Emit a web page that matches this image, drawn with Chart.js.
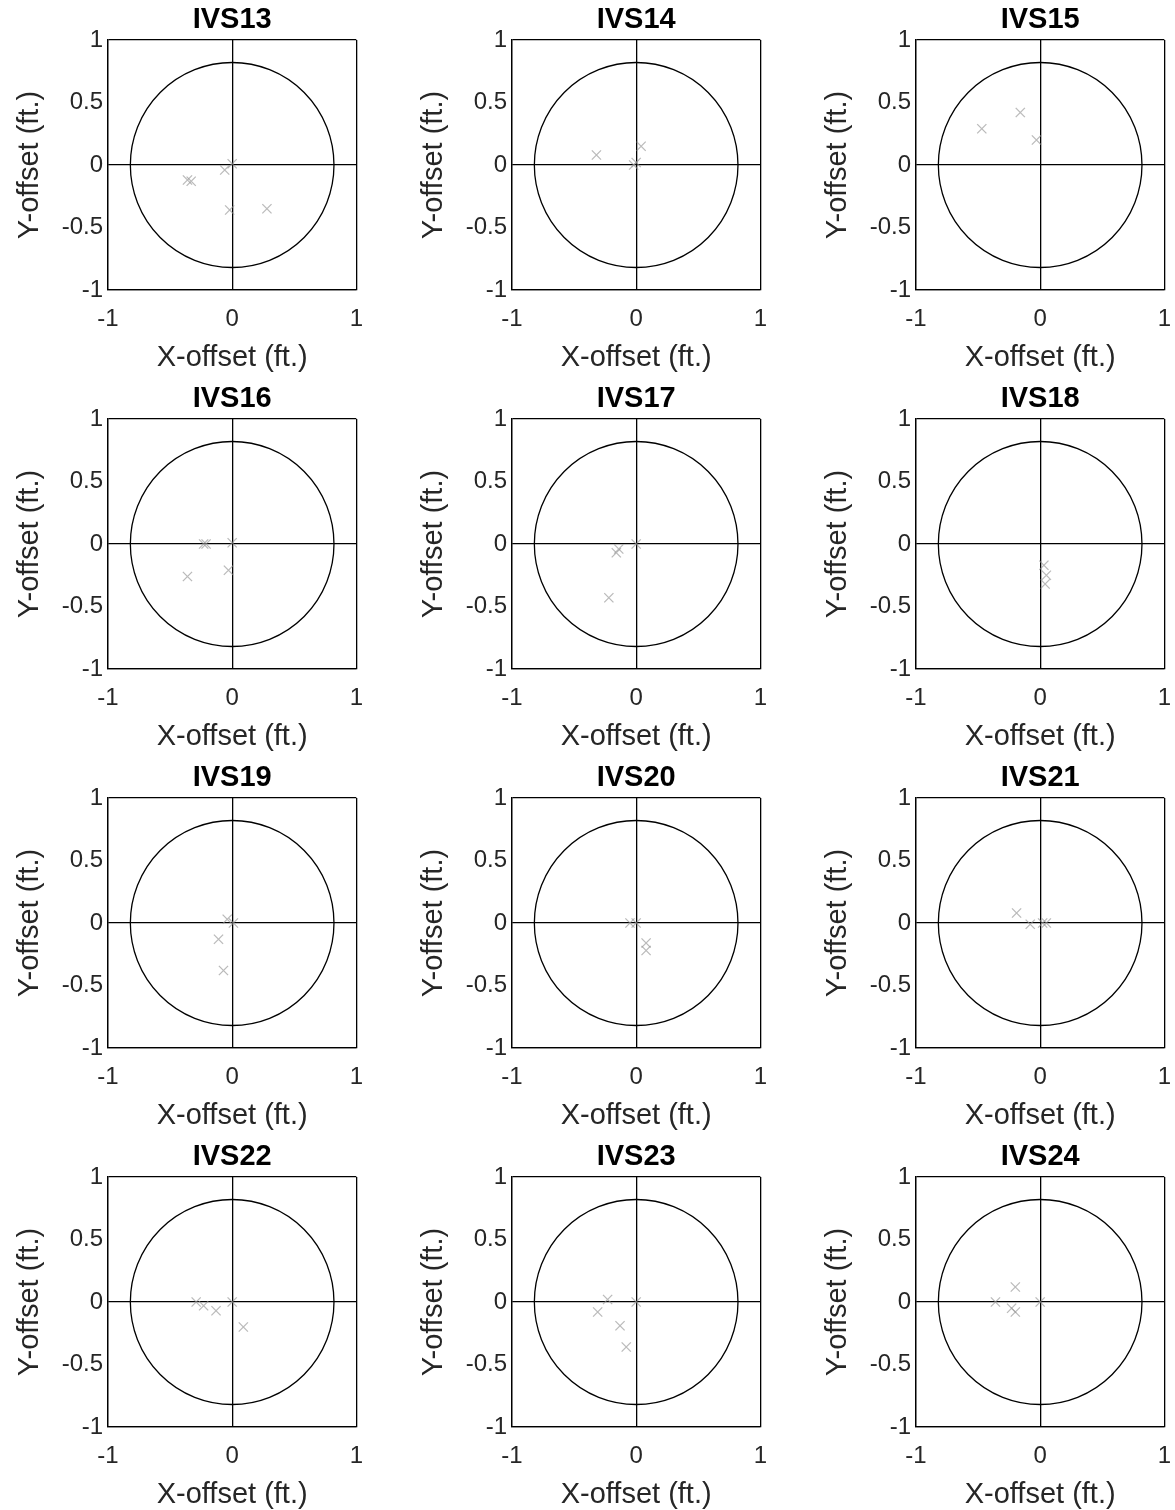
<!DOCTYPE html>
<html><head><meta charset="utf-8">
<script src="https://cdn.jsdelivr.net/npm/chart.js@4.4.1/dist/chart.umd.min.js"></script>
<style>
html,body{margin:0;padding:0;background:#fff;width:1175px;height:1510px;overflow:hidden;position:relative}
canvas{position:absolute}
</style></head><body>
<script>
const PANEL_TITLES = ['IVS13','IVS14','IVS15','IVS16','IVS17','IVS18','IVS19','IVS20','IVS21','IVS22','IVS23','IVS24'];
const IVS13_X = [-0.36,-0.33,-0.06,0.00,-0.02,0.28];
const IVS13_Y = [-0.12,-0.13,-0.04,0.01,-0.36,-0.35];
const IVS14_X = [-0.32,0.04,0.00,-0.02];
const IVS14_Y = [0.08,0.15,0.02,0.00];
const IVS15_X = [-0.47,-0.16,-0.03];
const IVS15_Y = [0.29,0.42,0.20];
const IVS16_X = [-0.23,-0.21,0.00,-0.03,-0.36];
const IVS16_Y = [0.00,0.00,0.01,-0.21,-0.26];
const IVS17_X = [-0.16,-0.14,0.00,-0.22];
const IVS17_Y = [-0.07,-0.04,0.00,-0.43];
const IVS18_X = [0.03,0.05,0.04];
const IVS18_Y = [-0.17,-0.25,-0.32];
const IVS19_X = [-0.04,0.01,-0.11,-0.07];
const IVS19_Y = [0.03,0.00,-0.13,-0.38];
const IVS20_X = [-0.05,0.00,0.08,0.08];
const IVS20_Y = [0.00,0.00,-0.16,-0.22];
const IVS21_X = [-0.19,-0.08,0.02,0.05];
const IVS21_Y = [0.08,-0.01,0.00,0.00];
const IVS22_X = [-0.29,-0.23,-0.13,0.00,0.09];
const IVS22_Y = [0.00,-0.03,-0.07,0.00,-0.20];
const IVS23_X = [-0.31,-0.23,-0.13,-0.08,0.00];
const IVS23_Y = [-0.08,0.02,-0.19,-0.36,0.00];
const IVS24_X = [-0.20,-0.23,-0.20,-0.36,0.00];
const IVS24_Y = [0.12,-0.05,-0.08,0.00,0.00];
const X_TICKS = [-1,0,1];
const Y_TICKS = [-1,-0.5,0,0.5,1];
const CIRCLE_RADIUS = 0.82;
const X_TITLE = 'X-offset (ft.)';
const Y_TITLE = 'Y-offset (ft.)';

const PANEL_X = [IVS13_X,IVS14_X,IVS15_X,IVS16_X,IVS17_X,IVS18_X,IVS19_X,IVS20_X,IVS21_X,IVS22_X,IVS23_X,IVS24_X];
const PANEL_Y = [IVS13_Y,IVS14_Y,IVS15_Y,IVS16_Y,IVS17_Y,IVS18_Y,IVS19_Y,IVS20_Y,IVS21_Y,IVS22_Y,IVS23_Y,IVS24_Y];

const FONT = '"Liberation Sans", Arial, Helvetica, sans-serif';
Chart.defaults.font.family = FONT;
Chart.defaults.devicePixelRatio = 1;

const circlePlugin = {
  id: 'circle',
  beforeDatasetsDraw(chart) {
    const {ctx, scales: {x, y}} = chart;
    const cx = x.getPixelForValue(0), cy = y.getPixelForValue(0);
    const rx = x.getPixelForValue(CIRCLE_RADIUS) - cx;
    const ry = cy - y.getPixelForValue(CIRCLE_RADIUS);
    ctx.save();
    ctx.beginPath();
    ctx.ellipse(cx, cy, rx, ry, 0, 0, Math.PI * 2);
    ctx.strokeStyle = '#000';
    ctx.lineWidth = 1.3;
    ctx.stroke();
    ctx.restore();
  }
};

const lineColor = (c) => ([-1,0,1].includes(c.tick && c.tick.value) ? '#000' : 'rgba(0,0,0,0)');

for (let i = 0; i < 12; i++) {
  const r = Math.floor(i / 3), c = i % 3;
  const cv = document.createElement('canvas');
  cv.width = 378; cv.height = 379;
  cv.style.left = (404 * c) + 'px';
  cv.style.top = (379 * r) + 'px';
  cv.style.width = '378px'; cv.style.height = '379px';
  document.body.appendChild(cv);
  const pts = PANEL_X[i].map((v, k) => ({x: v, y: PANEL_Y[i][k]}));
  new Chart(cv, {
    type: 'scatter',
    data: { datasets: [{
      data: pts,
      pointStyle: 'crossRot',
      pointRadius: 6.5,
      pointBorderWidth: 1.3,
      borderColor: 'rgba(150,150,150,0.65)',
      backgroundColor: 'rgba(150,150,150,0.65)'
    }]},
    options: {
      responsive: false,
      animation: false,
      devicePixelRatio: 1,
      layout: { padding: {top: 0, left: 0, right: 8, bottom: 0} },
      plugins: {
        legend: {display: false},
        tooltip: {enabled: false},
        title: {
          display: true, text: PANEL_TITLES[i], fullSize: false,
          color: '#000',
          font: {size: 29, weight: 'bold', family: FONT, lineHeight: 1.2},
          padding: {top: 3, bottom: 2.2}
        }
      },
      scales: {
        x: {
          type: 'linear', min: -1, max: 1,
          afterBuildTicks: (s) => { s.ticks = X_TICKS.map(v => ({value: v})); },
          afterFit: (s) => { s.height = 89; },
          ticks: { color: '#262626', font: {size: 24, family: FONT}, padding: 15, maxRotation: 0,
                   callback: (v) => String(v) },
          grid: { color: lineColor, lineWidth: 1.3, drawTicks: false, tickLength: 0 },
          border: { display: true, color: '#000', width: 1.3 },
          title: { display: true, text: X_TITLE, color: '#262626',
                   font: {size: 29, family: FONT, lineHeight: 1.2}, padding: {top: 0, bottom: 4} }
        },
        y: {
          type: 'linear', min: -1, max: 1,
          afterBuildTicks: (s) => { s.ticks = Y_TICKS.map(v => ({value: v})); },
          afterFit: (s) => { s.width = 108; },
          ticks: { color: '#262626', font: {size: 24, family: FONT}, padding: 5,
                   callback: (v) => String(v) },
          grid: { color: lineColor, lineWidth: 1.3, drawTicks: false, tickLength: 0 },
          border: { display: true, color: '#000', width: 1.3 },
          title: { display: true, text: Y_TITLE, color: '#262626',
                   font: {size: 29, family: FONT, lineHeight: 1.2}, padding: {top: 13, bottom: 0} }
        }
      }
    },
    plugins: [circlePlugin]
  });
}
</script>
</body></html>
